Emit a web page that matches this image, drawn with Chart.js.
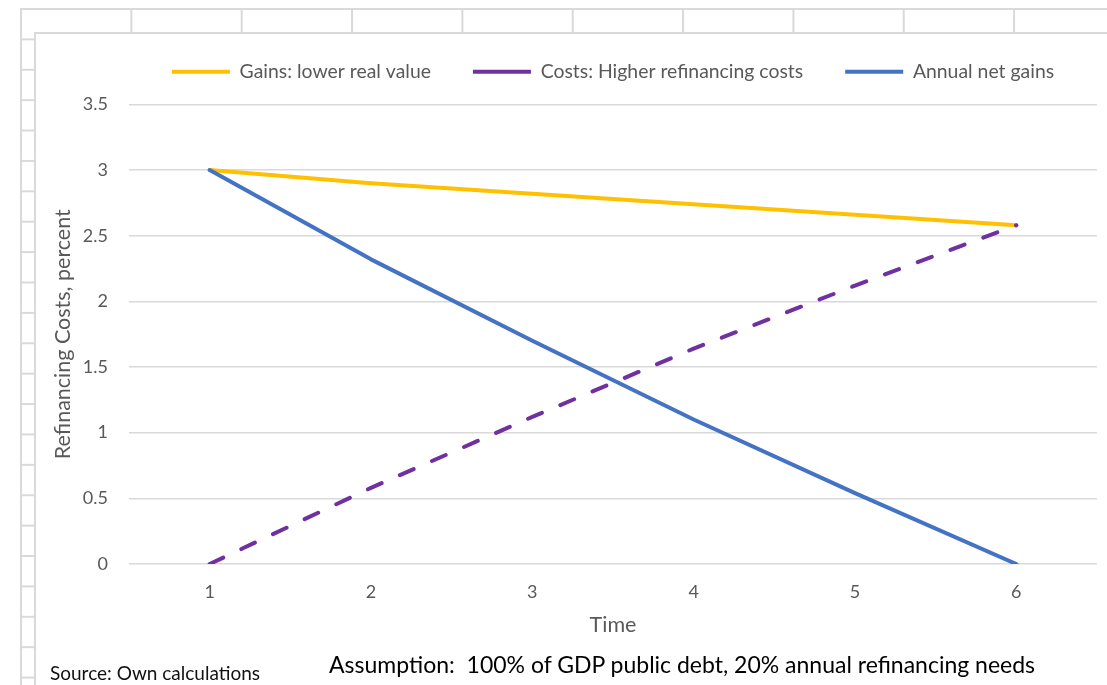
<!DOCTYPE html>
<html>
<head>
<meta charset="utf-8">
<title>Refinancing costs over time</title>
<script src="https://cdn.jsdelivr.net/npm/chart.js@4/dist/chart.umd.min.js"></script>
<style>
  html, body { margin: 0; padding: 0; width: 1107px; height: 685px; overflow: hidden; background: #fff; }
  /* spreadsheet cell grid behind the chart object */
  #sheet {
    position: absolute; left: 20px; top: 8px; right: 0; bottom: 0;
    background-image:
      linear-gradient(to right, #d9d9d9 2px, transparent 2px),
      linear-gradient(to bottom, #d9d9d9 2px, transparent 2px);
    background-size: 110.35px 30.4px;
  }
  #frame {
    position: absolute; left: 34px; top: 32px; width: 1100px; height: 700px;
    background: #fff; border-left: 2px solid #d9d9d9; border-top: 2px solid #d9d9d9;
  }
  #wrap { position: absolute; left: 0; top: 0; width: 1071px; height: 651px; }
  .note { position: absolute; font-family: Lato, "Open Sans", sans-serif; white-space: pre; color: #000; }
  #source { left: 14px; top: 628px; font-size: 19px; line-height: 22px; color: #111; }
  #assumption { left: 293px; top: 617px; font-size: 23px; line-height: 26px; }
</style>
</head>
<body>
<div id="sheet"></div>
<div id="frame">
  <div id="wrap"><canvas id="chart" width="1071" height="651"></canvas></div>
  <div class="note" id="source">Source: Own calculations</div>
  <div class="note" id="assumption">Assumption:  100% of GDP public debt, 20% annual refinancing needs</div>
</div>
<script>
// Periods after the rate rise
const timeLabels = ['1', '2', '3', '4', '5', '6'];

// Percent of GDP
const gainsLowerRealValue = [3.00, 2.90, 2.82, 2.74, 2.66, 2.58];
const costsHigherRefinancing = [0.00, 0.58, 1.12, 1.64, 2.12, 2.58];
const annualNetGains = [3.00, 2.32, 1.70, 1.10, 0.54, 0.00];

const seriesNames = ['Gains: lower real value', 'Costs: Higher refinancing costs', 'Annual net gains'];

const axisGrey = '#595959';
const gridGrey = '#d9d9d9';
const fontFamily = 'Lato, "Open Sans", sans-serif';

// Adds empty space between the legend row and the plot area
const legendSpacing = {
  id: 'legendSpacing',
  afterInit(chart, args, opts) {
    const fit = chart.legend.fit;
    chart.legend.fit = function () {
      fit.call(this);
      this.height += opts.extra;
    };
  }
};

new Chart(document.getElementById('chart'), {
  type: 'line',
  plugins: [legendSpacing],
  data: {
    labels: timeLabels,
    datasets: [
      {
        label: seriesNames[0],
        data: gainsLowerRealValue,
        borderColor: '#FFC000',
        backgroundColor: '#FFC000',
        borderWidth: 4,
        borderCapStyle: 'round',
        borderJoinStyle: 'round',
        pointRadius: 0,
        tension: 0,
        order: 3
      },
      {
        label: seriesNames[1],
        data: costsHigherRefinancing,
        borderColor: '#7030A0',
        backgroundColor: '#7030A0',
        borderWidth: 4,
        borderDash: [15, 20],
        borderCapStyle: 'round',
        borderJoinStyle: 'round',
        pointRadius: 0,
        tension: 0,
        order: 2
      },
      {
        label: seriesNames[2],
        data: annualNetGains,
        borderColor: '#4472C4',
        backgroundColor: '#4472C4',
        borderWidth: 4,
        borderCapStyle: 'round',
        borderJoinStyle: 'round',
        pointRadius: 0,
        tension: 0,
        order: 1
      }
    ]
  },
  options: {
    responsive: false,
    devicePixelRatio: 1,
    animation: false,
    layout: {
      autoPadding: false,
      padding: { top: -14, right: 10, bottom: 0, left: 0 }
    },
    plugins: {
      tooltip: { enabled: false },
      legendSpacing: { extra: 13 },
      legend: {
        position: 'top',
        fullSize: false,
        labels: {
          usePointStyle: true,
          pointStyle: 'line',
          pointStyleWidth: 58,
          padding: 42,
          color: axisGrey,
          font: { family: fontFamily, size: 19.4 },
          sort: (a, b) => a.datasetIndex - b.datasetIndex
        }
      }
    },
    scales: {
      x: {
        type: 'category',
        offset: true,
        grid: { display: false, drawTicks: false },
        border: { display: false },
        ticks: {
          color: axisGrey,
          font: { family: fontFamily, size: 18 },
          padding: 17,
          maxRotation: 0
        },
        title: {
          display: true,
          text: 'Time',
          color: axisGrey,
          font: { family: fontFamily, size: 21.5 },
          padding: { top: 0, bottom: 47 }
        },
        afterFit: (scale) => { scale.height = 121; }
      },
      y: {
        min: 0,
        max: 3.5,
        grid: { color: gridGrey, lineWidth: 1.5, drawTicks: false },
        border: { display: false },
        ticks: {
          stepSize: 0.5,
          color: axisGrey,
          font: { family: fontFamily, size: 18 },
          padding: 21,
          callback: (value) => String(value)
        },
        title: {
          display: true,
          text: 'Refinancing Costs, percent',
          color: axisGrey,
          font: { family: fontFamily, size: 21.5 },
          padding: { top: 14, bottom: 0 }
        },
        afterFit: (scale) => { scale.width = 93; }
      }
    }
  }
});
</script>
</body>
</html>
